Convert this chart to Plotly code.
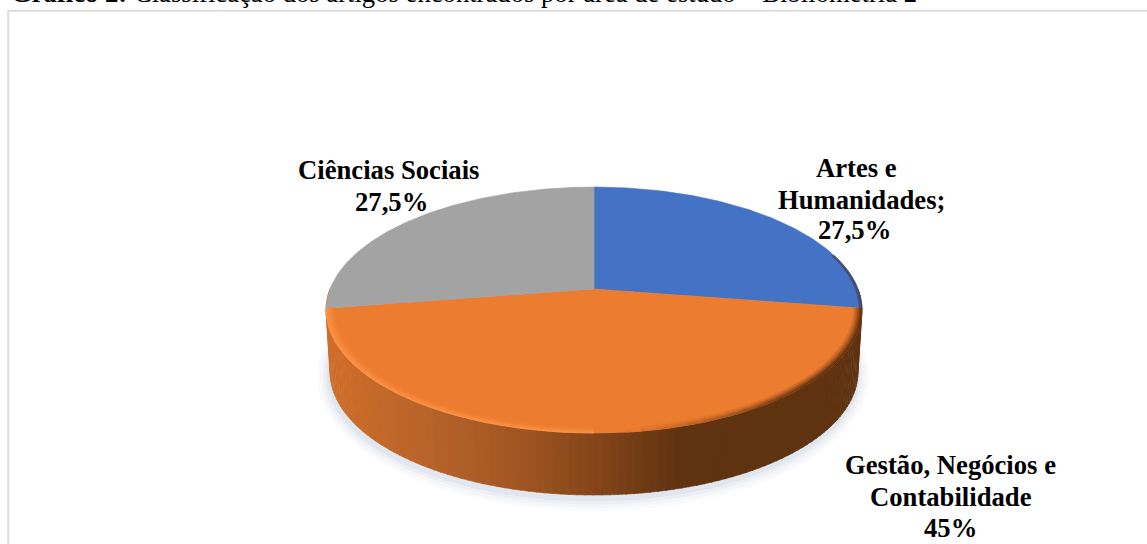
import numpy as np
import plotly.graph_objects as go

# Chart values
category_lines = [["Artes e", "Humanidades;"], ["Gestão, Negócios e", "Contabilidade"], ["Ciências Sociais"]]
shares = [27.5, 45.0, 27.5]
share_labels = ["27,5%", "45%", "27,5%"]
slice_colors = ["#4472C4", "#EC7C30", "#A3A3A3"]
title_bold = "Gráfico 2:"
title_rest = " Classificação dos artigos encontrados por área de estudo – Bibliometria 2"

# Geometry of the tilted disc, in page pixels
CX, CY = 594.0, 289.0
AX, AY = 264.0, 119.4
PERSP = 0.171
DEPTH = 62.0
BOTTOM_SCALE = 0.985


def project(theta, radius=1.0, drop=0.0, scale=1.0):
    """Clockwise angle from twelve o'clock on the disc to page x/y."""
    u = radius * np.sin(theta)
    v = -radius * np.cos(theta)
    w = 1 - PERSP * v
    return CX + scale * AX * u / w, CY + AY * v / w + drop


def lerp_color(a, b, t):
    ca = [int(a[i:i + 2], 16) for i in (1, 3, 5)]
    cb = [int(b[i:i + 2], 16) for i in (1, 3, 5)]
    mix = [round(x + (y - x) * t) for x, y in zip(ca, cb)]
    return "rgb({},{},{})".format(*mix)


def polygon(xs, ys, color, opacity=1.0):
    return go.Scatter(
        x=list(xs), y=list(ys), mode="lines", fill="toself", fillcolor=color,
        line=dict(width=0.6 if opacity == 1.0 else 0, color=color),
        opacity=opacity, hoverinfo="skip", showlegend=False,
    )


def wall_color(x):
    """Horizontal shading of the outer wall, lit from the left."""
    stops_x = [326, 420, 520, 600, 680, 862]
    stops = ["#CF6E2A", "#B9642A", "#A05522", "#824418", "#5F3210", "#5F3210"]
    i = int(np.clip(np.searchsorted(stops_x, x) - 1, 0, len(stops) - 2))
    t = (x - stops_x[i]) / (stops_x[i + 1] - stops_x[i])
    return lerp_color(stops[i], stops[i + 1], float(np.clip(t, 0, 1)))


fig = go.Figure()

# Slice boundaries follow the shares, clockwise from twelve o'clock
fractions = np.cumsum([0.0] + shares) / sum(shares) * 2 * np.pi

# Soft shadow beneath the disc
full = np.linspace(0, 2 * np.pi, 240)
for grow, alpha in [(12, 0.04), (9, 0.05), (6, 0.07), (3, 0.09)]:
    sx, sy = project(full, drop=DEPTH + 3, scale=BOTTOM_SCALE)
    mx, my = sx.mean(), sy.mean()
    sx = mx + (sx - mx) * (1 + grow / 264) - 1
    sy = my + (sy - my) * (1 + grow / 123)
    fig.add_trace(polygon(sx, sy, "#8A9ABF", alpha))

# Outer wall of the front slice, cut into narrow vertical strips
edges = np.linspace(np.pi / 2, 3 * np.pi / 2, 121)
for a, b in zip(edges[:-1], edges[1:]):
    t = np.array([a, b + 0.004])
    x0, y0 = project(t)
    x1, y1 = project(t, drop=DEPTH, scale=BOTTOM_SCALE)
    xs = np.concatenate([x0, x1[::-1]])
    ys = np.concatenate([y0, y1[::-1]])
    fig.add_trace(polygon(xs, ys, wall_color(float(x0.mean()))))

# Top faces of the slices
for start, end, color in zip(fractions[:-1], fractions[1:], slice_colors):
    t = np.linspace(start, end, 120)
    px, py = project(t)
    fig.add_trace(polygon(np.r_[CX, px, CX], np.r_[CY, py, CY], color))


def rim_shade(theta):
    """Bevel target colour and strength around the rim."""
    s = np.sin(theta)
    if s > 0:
        return "#4A2408", float(np.clip(s * 1.6 - 0.15, 0, 1)) * 0.9
    return "#FF9A4E", 0.8


# Bevel along the outer rim of the top face
insets = [1.0, 0.995, 0.99, 0.985, 0.98, 0.975, 0.97]
for k in range(len(insets) - 1):
    fade = 1 - k / (len(insets) - 1)
    for start, end, color in zip(fractions[:-1], fractions[1:], slice_colors):
        n = max(4, int((end - start) / 0.05))
        cuts = np.linspace(start, end, n + 1)
        for a, b in zip(cuts[:-1], cuts[1:]):
            mid = (a + b) / 2
            target, strength = rim_shade(mid)
            if color == slice_colors[2]:
                continue
            if color == slice_colors[0]:
                strength *= 0.6 if np.cos(mid) < 0.3 else 0.0
                if k > 1:
                    continue
            if strength * fade < 0.02:
                continue
            t = np.array([a, b])
            x0, y0 = project(t, radius=insets[k])
            x1, y1 = project(t, radius=insets[k + 1])
            fig.add_trace(polygon(
                np.r_[x0, x1[::-1]], np.r_[y0, y1[::-1]],
                lerp_color(color, target, strength * fade),
            ))

# Chart frame, open past the right and bottom of the page
FRAME = dict(color="#DCDCDC", width=2)
fig.add_shape(type="rect", x0=8.3, y0=10.8, x1=1200, y1=600, line=FRAME, layer="below")

# Data labels, one annotation per line to hold the tight line spacing
label_font = dict(family="Liberation Serif", size=26.67, color="#000000")
label_x = [[856, 861, 854], [950.5, 951, 950.5], [388, 391]]
label_y = [[168, 200, 230], [465, 497, 528], [170, 202]]
for lines, value, xs, ys in zip(category_lines, share_labels, label_x, label_y):
    for text, lx, ly in zip(lines + [value], xs, ys):
        fig.add_annotation(
            x=lx, y=ly, text=f"<b>{text}</b>", showarrow=False,
            font=label_font, align="center", xanchor="center", yanchor="middle",
        )

# Caption above the frame, running off the top of the page
fig.add_annotation(
    x=11, y=10, text=f"<b>{title_bold}</b>{title_rest}", showarrow=False,
    font=dict(family="Liberation Serif", size=26.67, color="#000000"),
    xanchor="left", yanchor="bottom", align="left", xshift=-2,
)

fig.update_layout(
    width=1147, height=544, margin=dict(l=0, r=0, t=0, b=0),
    paper_bgcolor="#FFFFFF", plot_bgcolor="#FFFFFF", showlegend=False,
    xaxis=dict(range=[0, 1147], visible=False, fixedrange=True),
    yaxis=dict(range=[544, 0], visible=False, fixedrange=True),
)

fig.write_html("out.html", config=dict(displayModeBar=False))
